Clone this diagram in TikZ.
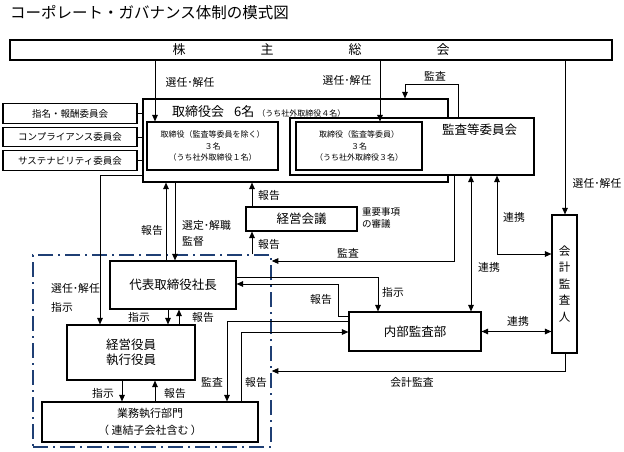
\documentclass[tikz,border=0pt]{standalone}
\usepackage{fontspec}
\setmainfont{Noto Sans CJK JP}
\usetikzlibrary{arrows.meta}
\definecolor{navy}{HTML}{1F3F74}
\newcommand\fsz[1]{\fontsize{#1}{#1}\selectfont}
\begin{document}
\begin{tikzpicture}[x=1pt,y=-1pt,
  box/.style={draw, line width=1.1pt, fill=white, inner sep=0pt, align=center},
  arr/.style={line width=1pt, -{Triangle[length=6.5pt,width=5.5pt]}},
  darr/.style={line width=1pt, {Triangle[length=6.5pt,width=5.5pt]}-{Triangle[length=6.5pt,width=5.5pt]}},
  ln/.style={line width=1pt},
  lbl/.style={inner sep=0pt, font=\fsz{10.8}},
  grpbox/.style={draw=navy, line width=1.5pt, dash pattern=on 15pt off 5pt on 2pt off 5pt, inner sep=0pt},
]
\useasboundingbox (0,0) rectangle (624,452);
\node[anchor=west, inner sep=0pt, font=\fontsize{15.5}{16}\selectfont] (title) at (10,13) {コーポレート・ガバナンス体制の模式図};

% group (dash-dot)
\node[grpbox, minimum width=238pt, minimum height=192pt] (grp) at (152,351) {};

% boxes
\node[box, minimum width=602pt, minimum height=20pt, font=\fsz{13}] (sh) at (311,50) {株\hspace{75pt}主\hspace{75pt}総\hspace{75pt}会};
\node[box, minimum width=305pt, minimum height=83pt] (board) at (295.5,140.5) {};
\node[anchor=base west, inner sep=0pt] (boardt) at (172,117) {{\fsz{13}取締役会\hspace{10pt}6名}\hspace{3pt}{\fsz{8}（うち社外取締役４名）}};
\node[box, minimum width=131pt, minimum height=48pt, font={\fontsize{8}{11.5}\selectfont}] (dirL) at (212.5,146) {取締役（監査等委員を除く）\\３名\\（うち社外取締役１名）};
\node[box, minimum width=244pt, minimum height=57pt] (ac) at (412,146.5) {};
\node[inner sep=0pt, font=\fsz{12.5}] (act) at (479.5,130) {監査等委員会};
\node[box, minimum width=126pt, minimum height=48pt, font={\fontsize{8}{11.5}\selectfont}] (dirR) at (359,146) {取締役（監査等委員）\\３名\\（うち社外取締役３名）};

\node[box, minimum width=134pt, minimum height=19.5pt, font=\fsz{9.5}] (c1) at (70,113.5) {指名・報酬委員会};
\node[box, minimum width=134pt, minimum height=19.5pt, font=\fsz{9.5}] (c2) at (70,137) {コンプライアンス委員会};
\node[box, minimum width=134pt, minimum height=19.5pt, font=\fsz{9.5}] (c3) at (70,160.5) {サステナビリティ委員会};

\node[box, minimum width=111pt, minimum height=24pt, font=\fsz{12.5}] (kaigi) at (301.5,219) {経営会議};
\node[anchor=west, inner sep=0pt, align=left, font={\fontsize{9.5}{12}\selectfont}] (kaigin) at (362,218) {重要事項\\の審議};

\node[box, minimum width=126pt, minimum height=48pt, font=\fsz{12.5}] (pres) at (173,285) {代表取締役社長};
\node[box, minimum width=128pt, minimum height=55pt, font={\fontsize{12.5}{15.5}\selectfont}] (exec) at (131,352.5) {経営役員\\執行役員};
\node[box, minimum width=216pt, minimum height=40pt, font={\fontsize{11}{16.5}\selectfont}] (dept) at (150,422) {業務執行部門\\（ 連結子会社含む ）};
\node[box, minimum width=132pt, minimum height=39pt, font=\fsz{12.5}] (ia) at (415,331.5) {内部監査部};
\node[box, minimum width=25pt, minimum height=138pt, font={\fontsize{11.5}{16.5}\selectfont}] (aud) at (564.5,284) {会\\計\\監\\査\\人};

% connectors
\draw[arr] (155,0 |- sh.south) -- (155,0 |- dirL.north);
\draw[arr] (380,0 |- sh.south) -- (380,0 |- dirR.north);
\draw[arr] (565,0 |- sh.south) -- (565,0 |- aud.north);
\draw[arr] (458,0 |- ac.north) -- (458,85) -- (405,85) -- (405,0 |- board.north);
\draw[ln] (c1.east) -- (board.west |- c1.east);
\draw[ln] (c2.east) -- (board.west |- c2.east);
\draw[ln] (c3.east) -- (board.west |- c3.east);
\draw[arr] (board.west |- 0,175) -- (100,175) -- (100,0 |- exec.north);
\draw[arr] (166,0 |- pres.north) -- (166,0 |- board.south);
\draw[arr] (175,0 |- board.south) -- (175,0 |- pres.north);
\draw[arr] (252,0 |- kaigi.north) -- (252,0 |- board.south);
\draw[arr] (252,0 |- grp.north) -- (252,0 |- kaigi.south);
\draw[arr] (454,0 |- ac.south) -- (454,261) -- (grp.east |- 0,261);
\draw[darr] (471,0 |- ac.south) -- (471,0 |- ia.north);
\draw[darr] (497,0 |- ac.south) -- (497,254) -- (aud.west |- 0,254);
\draw[darr] (ia.east) -- (aud.west |- ia.east);
\draw[arr] (565,0 |- aud.south) -- (565,371) -- (grp.east |- 0,371);
\draw[arr] (pres.east |- 0,277) -- (378,277) -- (378,0 |- ia.north);
\draw[arr] (ia.west |- 0,316) -- (338,316) -- (338,284) -- (pres.east |- 0,284);
\draw[arr] (ia.west |- 0,321) -- (227,321) -- (227,0 |- dept.north);
\draw[arr] (241,0 |- dept.north) -- (241,332) -- (ia.west |- 0,332);
\draw[arr] (168,0 |- pres.south) -- (168,0 |- exec.north);
\draw[arr] (179,0 |- exec.north) -- (179,0 |- pres.south);
\draw[arr] (122,0 |- exec.south) -- (122,0 |- dept.north);
\draw[arr] (155,0 |- dept.north) -- (155,0 |- exec.south);

% labels
\node[lbl] (l1) at (190,82) {選任･解任};
\node[lbl] (l2) at (347,80) {選任･解任};
\node[lbl] (l3) at (597,183) {選任･解任};
\node[lbl] (l4) at (435,76) {監査};
\node[lbl, anchor=west] (l5) at (51,288) {選任･解任};
\node[lbl, anchor=west] (l6) at (51,307) {指示};
\node[lbl] (l7) at (152,230) {報告};
\node[lbl, anchor=west] (l8) at (182,225) {選定･解職};
\node[lbl, anchor=west] (l9) at (182,241) {監督};
\node[lbl, anchor=west] (l10) at (258,195) {報告};
\node[lbl, anchor=west] (l11) at (258,244) {報告};
\node[lbl] (l12) at (348,253) {監査};
\node[lbl] (l13) at (489,267) {連携};
\node[lbl] (l14) at (514,217) {連携};
\node[lbl] (l15) at (518,321) {連携};
\node[lbl] (l16) at (412,382) {会計監査};
\node[lbl, anchor=west] (l17) at (382,292) {指示};
\node[lbl] (l18) at (321,299) {報告};
\node[lbl] (l19) at (212,382) {監査};
\node[lbl] (l20) at (256,382) {報告};
\node[lbl] (l21) at (139,317) {指示};
\node[lbl] (l22) at (203,317) {報告};
\node[lbl] (l23) at (103,393) {指示};
\node[lbl] (l24) at (175,393) {報告};
\end{tikzpicture}
\end{document}
